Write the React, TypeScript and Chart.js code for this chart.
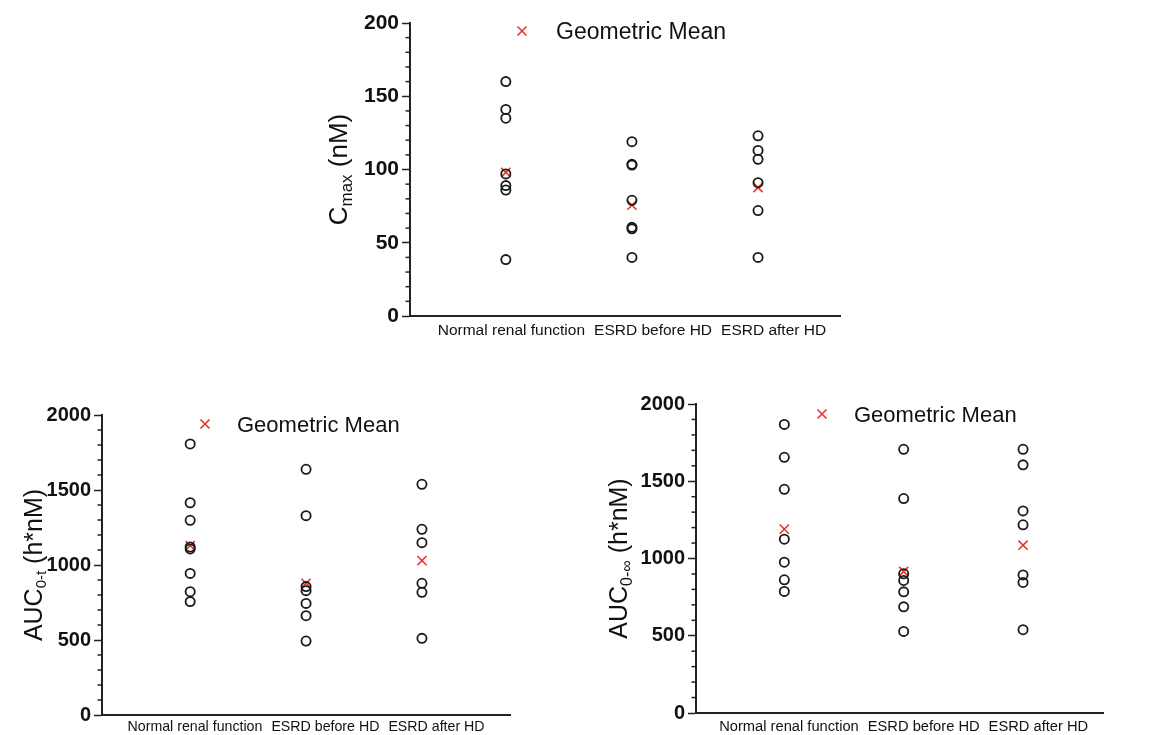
import React, { useEffect, useRef } from "react";
import { Chart, registerables } from "chart.js";

Chart.register(...registerables);

const categories = ["Normal renal function", "ESRD before HD", "ESRD after HD"];

const cmaxNormal = [160, 141, 135, 97, 89, 86, 38.5];
const cmaxBefore = [119, 103.5, 103, 79, 60.5, 59.5, 40];
const cmaxAfter = [123, 113, 107, 91, 72, 40];
const cmaxGeoMean = [98, 75.7, 87.7];
const cmaxTicks = [0, 50, 100, 150, 200];

const auctNormal = [1807, 1415, 1298, 1120, 1107, 944, 822, 756];
const auctBefore = [1638, 1329, 856, 829, 744, 662, 493];
const auctAfter = [1538, 1238, 1149, 878, 818, 511];
const auctGeoMean = [1129, 878, 1029];

const aucinfNormal = [1868, 1655, 1448, 1125, 976, 862, 787];
const aucinfBefore = [1707, 1388, 901, 858, 784, 687, 528];
const aucinfAfter = [1707, 1606, 1308, 1218, 894, 845, 539];
const aucinfGeoMean = [1190, 916, 1086];

const aucTicks = [0, 500, 1000, 1500, 2000];

const legendLabel = "Geometric Mean";

const FONT = "'Liberation Sans', Arial, Helvetica, sans-serif";
const AXIS = "#222";
const RED = "#e8332b";

type Part = { text: string; sub?: boolean };

type Spec = {
  left: number; top: number; w: number; h: number;
  padTop: number; padRight: number; yWidth: number; xHeight: number;
  groups: number[][]; mean: number[]; ticks: number[]; minor: number;
  xMin: number; xMax: number;
  tickFont: number; labelFont: number; labelPad: number;
  title: Part[]; titleFont: number; subFont: number; titleX: number; subShift: number;
  legX: number; legBase: number; legTextX: number; legFont: number;
};

const specs: Spec[] = [
  {
    left: 300, top: 0, w: 560, h: 350, padTop: 23, padRight: 20, yWidth: 110, xHeight: 34,
    groups: [cmaxNormal, cmaxBefore, cmaxAfter], mean: cmaxGeoMean, ticks: cmaxTicks, minor: 10,
    xMin: 0.24, xMax: 3.65, tickFont: 21, labelFont: 15.5, labelPad: 7,
    title: [{ text: "C" }, { text: "max", sub: true }, { text: " (nM)" }], titleFont: 26, subFont: 17, titleX: 47, subShift: 5,
    legX: 222, legBase: 39, legTextX: 256, legFont: 23,
  },
  {
    left: 0, top: 380, w: 530, h: 355, padTop: 35, padRight: 20, yWidth: 102, xHeight: 20,
    groups: [auctNormal, auctBefore, auctAfter], mean: auctGeoMean, ticks: aucTicks, minor: 100,
    xMin: 0.239, xMax: 3.76, tickFont: 20, labelFont: 14.2, labelPad: 5,
    title: [{ text: "AUC" }, { text: "0-t", sub: true }, { text: " (h*nM)" }], titleFont: 25, subFont: 15, titleX: 42, subShift: 4,
    legX: 205, legBase: 52, legTextX: 237, legFont: 22,
  },
  {
    left: 590, top: 370, w: 540, h: 365, padTop: 34, padRight: 27, yWidth: 106, xHeight: 22,
    groups: [aucinfNormal, aucinfBefore, aucinfAfter], mean: aucinfGeoMean, ticks: aucTicks, minor: 100,
    xMin: 0.26, xMax: 3.67, tickFont: 20, labelFont: 14.7, labelPad: 7,
    title: [{ text: "AUC" }, { text: "0-\u221E", sub: true }, { text: " (h*nM)" }], titleFont: 25, subFont: 16, titleX: 37, subShift: 5,
    legX: 232, legBase: 52, legTextX: 264, legFont: 22,
  },
];

function makePlugin(spec: Spec) {
  return {
    id: "decor",
    afterDraw(chart: any) {
      const ctx: CanvasRenderingContext2D = chart.ctx;
      const ys = chart.scales.y;
      const xs = chart.scales.x;
      const area = chart.chartArea;
      ctx.save();
      // minor ticks
      ctx.strokeStyle = AXIS;
      ctx.lineWidth = 1.5;
      const max = spec.ticks[spec.ticks.length - 1];
      const major = spec.ticks[1] - spec.ticks[0];
      for (let v = spec.ticks[0]; v <= max + 1e-9; v += spec.minor) {
        if (Math.abs(v / major - Math.round(v / major)) < 1e-6) continue;
        const py = ys.getPixelForValue(v);
        ctx.beginPath();
        ctx.moveTo(area.left - 4.5, py);
        ctx.lineTo(area.left, py);
        ctx.stroke();
      }
      // x labels laid out as a row centred on middle category
      ctx.fillStyle = "#111";
      ctx.font = `${spec.labelFont}px ${FONT}`;
      ctx.textBaseline = "top";
      ctx.textAlign = "left";
      const gap = 9;
      const widths = categories.map((c) => ctx.measureText(c).width);
      const total = widths.reduce((a, b) => a + b, 0) + gap * (categories.length - 1);
      let lx = xs.getPixelForValue(2) - total / 2;
      categories.forEach((c, i) => {
        ctx.fillText(c, lx, area.bottom + spec.labelPad);
        lx += widths[i] + gap;
      });
      // y title with subscript
      const cy = (area.top + area.bottom) / 2;
      const fontOf = (p: Part) => `${p.sub ? spec.subFont : spec.titleFont}px ${FONT}`;
      const pw = spec.title.map((p) => { ctx.font = fontOf(p); return ctx.measureText(p.text).width; });
      const tw = pw.reduce((a, b) => a + b, 0);
      ctx.translate(spec.titleX, cy);
      ctx.rotate(-Math.PI / 2);
      ctx.textBaseline = "alphabetic";
      let tx = -tw / 2;
      spec.title.forEach((p, i) => {
        ctx.font = fontOf(p);
        ctx.fillText(p.text, tx, p.sub ? spec.subShift : 0);
        tx += pw[i];
      });
      ctx.setTransform(1, 0, 0, 1, 0, 0);
      // legend
      const cyL = spec.legBase - 8;
      ctx.strokeStyle = RED;
      ctx.lineWidth = 1.6;
      ctx.beginPath();
      ctx.moveTo(spec.legX - 4.5, cyL - 4.5);
      ctx.lineTo(spec.legX + 4.5, cyL + 4.5);
      ctx.moveTo(spec.legX + 4.5, cyL - 4.5);
      ctx.lineTo(spec.legX - 4.5, cyL + 4.5);
      ctx.stroke();
      ctx.fillStyle = "#111";
      ctx.font = `${spec.legFont}px ${FONT}`;
      ctx.textBaseline = "alphabetic";
      ctx.fillText(legendLabel, spec.legTextX, spec.legBase);
      ctx.restore();
    },
  };
}

function buildConfig(spec: Spec): any {
  const datasets: any[] = spec.groups.map((g, i) => ({
    label: categories[i],
    data: g.map((v) => ({ x: i + 1, y: v })),
    pointStyle: "circle",
    pointRadius: 4.6,
    pointBorderWidth: 1.8,
    pointBorderColor: "#1a1a1a",
    pointBackgroundColor: "rgba(0,0,0,0)",
    showLine: false,
    clip: false,
  }));
  datasets.push({
    label: legendLabel,
    data: spec.mean.map((v, i) => ({ x: i + 1, y: v })),
    pointStyle: "crossRot",
    pointRadius: 6.5,
    pointBorderWidth: 1.6,
    pointBorderColor: RED,
    pointBackgroundColor: RED,
    showLine: false,
    clip: false,
  });
  return {
    type: "scatter",
    data: { datasets },
    options: {
      animation: false,
      responsive: false,
      maintainAspectRatio: false,
      layout: { padding: { top: spec.padTop, right: spec.padRight, left: 0, bottom: 0 } },
      plugins: { legend: { display: false }, tooltip: { enabled: false } },
      events: [],
      scales: {
        x: {
          type: "linear",
          min: spec.xMin,
          max: spec.xMax,
          afterBuildTicks: (s: any) => { s.ticks = categories.map((_, i) => ({ value: i + 1 })); },
          afterFit: (s: any) => { s.height = spec.xHeight; },
          ticks: { display: false },
          grid: { display: false, drawTicks: false },
          border: { display: true, color: AXIS, width: 2 },
        },
        y: {
          type: "linear",
          min: spec.ticks[0],
          max: spec.ticks[spec.ticks.length - 1],
          afterBuildTicks: (s: any) => { s.ticks = spec.ticks.map((v) => ({ value: v })); },
          afterFit: (s: any) => { s.width = spec.yWidth; },
          ticks: {
            color: "#111",
            font: { family: FONT, size: spec.tickFont, weight: "bold" },
            padding: 3,
            callback: (v: any) => String(v),
          },
          grid: { display: true, drawOnChartArea: false, drawTicks: true, tickLength: 8, tickWidth: 1.5, tickColor: AXIS },
          border: { display: true, color: AXIS, width: 2 },
        },
      },
    },
    plugins: [makePlugin(spec)],
  };
}

function Plot({ spec }: { spec: Spec }) {
  const ref = useRef<HTMLCanvasElement>(null);
  useEffect(() => {
    const chart = new Chart(ref.current as HTMLCanvasElement, buildConfig(spec));
    return () => chart.destroy();
  }, [spec]);
  return (
    <canvas
      ref={ref}
      width={spec.w}
      height={spec.h}
      style={{ position: "absolute", left: spec.left, top: spec.top, width: spec.w, height: spec.h }}
    />
  );
}

export default function App() {
  return (
    <div style={{ position: "absolute", left: 0, top: 0, width: 1154, height: 735, background: "#fff", overflow: "hidden" }}>
      {specs.map((s, i) => (
        <Plot key={i} spec={s} />
      ))}
    </div>
  );
}
